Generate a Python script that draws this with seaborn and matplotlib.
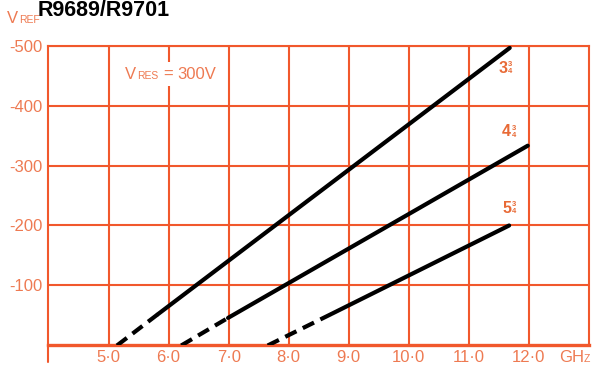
import matplotlib
matplotlib.use("Agg")
import matplotlib.pyplot as plt
import seaborn as sns
import pandas as pd

# Axis ticks (frequency in GHz, reference voltage in volts)
freq_ticks = [5.0, 6.0, 7.0, 8.0, 9.0, 10.0, 11.0, 12.0]
freq_labels = ["5·0", "6·0", "7·0", "8·0", "9·0", "10·0", "11·0", "12·0"]
vref_ticks = [-100, -200, -300, -400, -500]
vref_labels = ["-100", "-200", "-300", "-400", "-500"]

# Reflector-mode tuning curves: [cut-off, start of measured range, end]
mode_names = ["3", "4", "5"]
freq_mode3 = [5.14, 5.82, 11.68]
vref_mode3 = [0, -52, -496]
freq_mode4 = [6.21, 6.99, 11.98]
vref_mode4 = [0, -46, -333]
freq_mode5 = [7.65, 8.72, 11.67]
vref_mode5 = [0, -53, -200]

# Where each mode label sits (GHz, V)
label_freq = [11.57, 11.63, 11.63]
label_vref = [-462, -356, -229]

GRID = "#f1582c"
TEXT = "#ee7a52"
LABEL = "#e86a36"

sns.set_style("white")
plt.rcParams["font.family"] = ["Liberation Sans", "DejaVu Sans"]

fig = plt.figure(figsize=(5.95, 3.67), dpi=100)
ax = fig.add_axes([0.0815, 0.0586, 0.9084, 0.8174])

curves = [(freq_mode3, vref_mode3), (freq_mode4, vref_mode4), (freq_mode5, vref_mode5)]
for name, (f, v) in zip(mode_names, curves):
    dashed = pd.DataFrame({"freq": f[:2], "vref": v[:2]})
    solid = pd.DataFrame({"freq": f[1:], "vref": v[1:]})
    sns.lineplot(data=dashed, x="freq", y="vref", ax=ax, color="black",
                 lw=3.0, linestyle=(0, (3.0, 1.7)), estimator=None, sort=False,
                 zorder=4)
    sns.lineplot(data=solid, x="freq", y="vref", ax=ax, color="black",
                 lw=3.0, solid_capstyle="round", estimator=None, sort=False,
                 zorder=4)

ax.set_xlim(4.0, 13.0)
ax.set_ylim(0, -500)
ax.set_xticks(freq_ticks)
ax.set_xticklabels(freq_labels)
ax.set_yticks(vref_ticks)
ax.set_yticklabels(vref_labels)
ax.set_xlabel("")
ax.set_ylabel("")
ax.set_axisbelow(True)
ax.grid(True, color=GRID, lw=1.5)
ax.tick_params(axis="both", length=0, labelsize=12, labelcolor=TEXT)
ax.tick_params(axis="x", pad=3)
ax.tick_params(axis="y", pad=4)

for side in ["left", "top", "right"]:
    ax.spines[side].set_color(GRID)
    ax.spines[side].set_linewidth(1.5)
ax.spines["bottom"].set_color(GRID)
ax.spines["bottom"].set_linewidth(2.4)
# left axis runs a little below the frequency axis
ax.plot([0, 0], [0, -0.055], transform=ax.transAxes, color=GRID, lw=1.5,
        clip_on=False, zorder=5)

# Mode labels: whole number with a small stacked 3/4
for name, lf, lv in zip(mode_names, label_freq, label_vref):
    ax.annotate(name, (lf, lv), ha="center", va="center", fontsize=11.5,
                fontweight="bold", color=LABEL, zorder=6)
    ax.annotate("3", (lf, lv), xytext=(5.0, 2.4), textcoords="offset points",
                ha="center", va="center", fontsize=5.5, fontweight="bold", color=LABEL)
    ax.annotate("4", (lf, lv), xytext=(5.0, -2.4), textcoords="offset points",
                ha="center", va="center", fontsize=5.5, fontweight="bold", color=LABEL)

# Resonator voltage note
ax.annotate("V", (5.28, -445), ha="left", va="baseline", fontsize=12, color=TEXT)
ax.annotate("RES", (5.28, -445), xytext=(8.2, 0), textcoords="offset points",
            ha="left", va="baseline", fontsize=7.5, color=TEXT)
ax.annotate("=", (5.28, -445), xytext=(27.0, 0), textcoords="offset points",
            ha="left", va="baseline", fontsize=12, color=TEXT,
            bbox=dict(fc="white", ec="none", pad=3.5), zorder=3)
ax.annotate("300V", (5.28, -445), xytext=(37.5, 0), textcoords="offset points",
            ha="left", va="baseline", fontsize=12, color=TEXT)

# Frequency unit after the last tick
fig.text(559 / 595, 1 - 362 / 367, "GH", fontsize=12, color=TEXT,
         ha="left", va="baseline")
fig.text(584 / 595, 1 - 362 / 367, "Z", fontsize=7.5, color=TEXT,
         ha="left", va="baseline")

# Axis name and title
fig.text(7 / 595, 1 - 23 / 367, "V", fontsize=12, color=TEXT,
         ha="left", va="baseline")
fig.text(19.5 / 595, 1 - 23 / 367, "REF", fontsize=7.5, color=TEXT,
         ha="left", va="baseline")
fig.text(38 / 595, 1 - 16 / 367, "R9689/R9701", fontsize=15.5,
         fontweight="bold", color="black", ha="left", va="baseline")

fig.savefig("out.png", dpi=100)
